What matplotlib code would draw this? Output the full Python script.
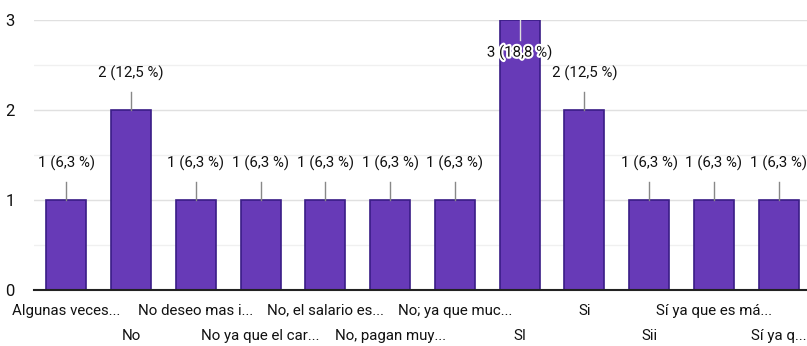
import matplotlib.pyplot as plt
import matplotlib.patheffects as pe

categories = ['Algunas veces...', 'No', 'No deseo mas i...', 'No ya que el car...',
              'No, el salario es...', 'No, pagan muy...', 'No; ya que muc...', 'SI',
              'Si', 'Sii', 'Sí ya que es má...', 'Sí ya q...']
counts = [1, 2, 1, 1, 1, 1, 1, 3, 2, 1, 1, 1]
labels = ['1 (6,3 %)', '2 (12,5 %)', '1 (6,3 %)', '1 (6,3 %)', '1 (6,3 %)', '1 (6,3 %)',
          '1 (6,3 %)', '3 (18,8 %)', '2 (12,5 %)', '1 (6,3 %)', '1 (6,3 %)', '1 (6,3 %)']

plt.rcParams['font.family'] = ['Roboto', 'DejaVu Sans']

fig = plt.figure(figsize=(8.07, 3.46), dpi=100)
ax = fig.add_axes([34/807, 56/346, 777/807, 270/346])

x = list(range(len(categories)))
ax.bar(x, counts, width=0.62, color='#673ab7', edgecolor='#3a1d86', linewidth=1.2, zorder=3)

ax.set_xlim(-0.5, len(categories) - 0.5)
ax.set_ylim(0, 3)
ax.set_yticks([0, 1, 2, 3])
ax.set_yticks([0.5, 1.5, 2.5], minor=True)
ax.grid(axis='y', which='major', color='#e0e0e0', linewidth=1, zorder=0)
ax.grid(axis='y', which='minor', color='#f0f0f0', linewidth=1, zorder=0)
ax.tick_params(axis='y', which='both', length=0, labelsize=12, pad=14, labelcolor='#111111')
for s in ['top', 'right', 'left']:
    ax.spines[s].set_visible(False)
ax.spines['bottom'].set_color('#222222')
ax.spines['bottom'].set_linewidth(1.5)
ax.spines['bottom'].set_zorder(4)

ax.set_xticks(x)
ax.set_xticklabels([])
ax.tick_params(axis='x', length=0)
for i, c in enumerate(categories):
    off = -0.077 if i % 2 == 0 else -0.17
    ax.text(i, off, c, transform=ax.get_xaxis_transform(), ha='center', va='center',
            fontsize=10.8, color='#111111')

for i, (v, lab) in enumerate(zip(counts, labels)):
    if v >= 3:
        ax.plot([i, i], [v, v - 0.22], color='#dddddd', linewidth=1, zorder=4)
        t = ax.text(i, v - 0.36, lab, ha='center', va='center', fontsize=10.8,
                    color='#111111', zorder=5)
        t.set_path_effects([pe.withStroke(linewidth=3, foreground='white')])
    else:
        ax.plot([i, i], [v, v + 0.2], color='#888888', linewidth=1, zorder=4)
        ax.text(i, v + 0.41, lab, ha='center', va='center', fontsize=10.8,
                color='#111111', zorder=5)

fig.savefig('out.png', dpi=100)
